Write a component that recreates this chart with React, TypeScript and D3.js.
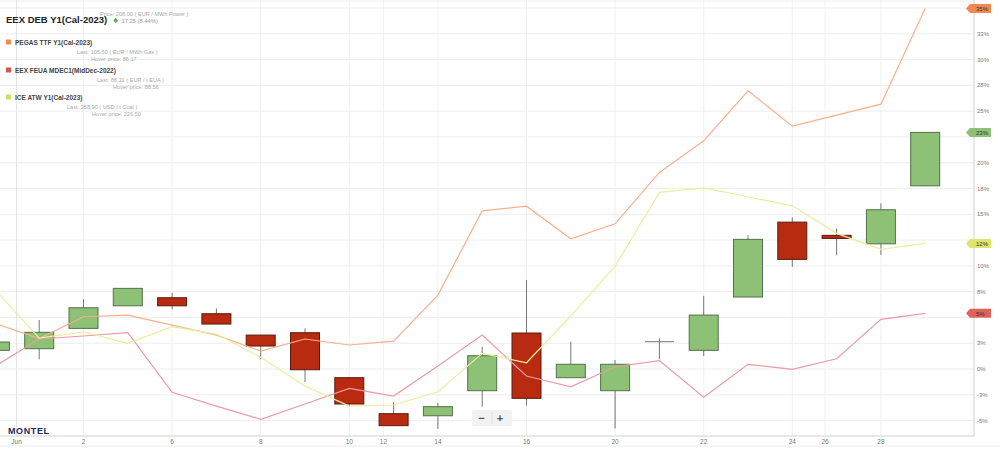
import React from "react";
import * as d3 from "d3";

// ---- data (values in % change) ----
const days = ["May 31","Jun 1","Jun 2","Jun 3","Jun 6","Jun 7","Jun 8","Jun 9","Jun 10","Jun 13","Jun 14","Jun 15","Jun 16","Jun 17","Jun 20","Jun 21","Jun 22","Jun 23","Jun 24","Jun 27","Jun 28","Jun 29"];
const opens  = [1.81, 1.97, 3.94, 6.13, 6.91, 5.36, 3.29, 3.52, -0.84, -4.33, -4.53, -2.10, 3.49, -0.84, -2.10, 2.65, 1.81, 6.98, 14.24, 12.96, 12.14, 17.76];
const highs  = [2.62, 4.75, 6.75, 7.82, 7.39, 5.88, 3.29, 3.94, -0.84, -3.23, -3.27, 2.16, 8.62, 2.65, 0.87, 2.97, 7.10, 12.98, 14.70, 13.63, 16.06, 22.94];
const lows   = [1.81, 0.94, 3.94, 6.13, 5.78, 4.36, 0.94, -1.26, -3.65, -5.49, -5.81, -3.65, -3.56, -0.84, -5.75, 0.94, 1.26, 6.98, 9.91, 11.02, 11.05, 17.76];
const closes = [2.62, 3.56, 5.94, 7.82, 6.13, 4.36, 2.23, -0.07, -3.39, -5.49, -3.65, 1.29, -2.84, 0.46, 0.46, 2.65, 5.23, 12.57, 10.63, 12.66, 15.44, 22.94];

const ttf  = [4.43, 2.96, 5.07, 5.23, 4.26, 3.29, 1.74, 2.91, 2.33, 2.71, 7.17, 15.34, 15.79, 12.63, 14.08, 19.06, 22.12, 26.97, 23.55, 24.61, 25.68, 34.95];
const feua = [0.25, 2.91, 3.20, 3.52, -2.26, -3.59, -4.87, -3.39, -1.87, -2.62, 0.29, 3.29, -0.68, -1.72, 0.22, 0.82, -2.74, 0.46, -0.03, 1.00, 4.82, 5.40];
const atw  = [7.70, 3.00, 3.61, 2.49, 4.10, 3.39, 1.13, -1.65, -3.59, -3.49, -2.20, 1.52, 0.61, 5.14, 9.98, 17.12, 17.57, 16.70, 15.82, 13.15, 11.60, 12.18];

const xTickPos = [0.49, 2, 4, 6, 8, 8.77, 10, 12, 14, 16, 18, 18.74, 20];
const xTickLabels = ["Jun", "2", "6", "8", "10", "12", "14", "16", "20", "22", "24", "26", "28"];
const yTicks = d3.range(-5, 35.01, 2.5);

const seriesNames = ["PEGAS TTF Y1(Cal-2023)", "EEX FEUA MDEC1(MidDec-2022)", "ICE ATW Y1(Cal-2023)"];
const seriesLast = ["Last: 105.50 ( EUR / MWh Gas )", "Last: 88.31 ( EUR / t EUA )", "Last: 258.90 ( USD / t Coal )"];
const seriesHover = ["Hover price: 86.17", "Hover price: 88.56", "Hover price: 226.50"];

const W = 1000, H = 449;
const plotRight = 974, plotBottom = 436;
const FONT = "'Liberation Sans', Arial, sans-serif";

const fmtPct = (v: number) => (v < 0 ? -Math.round(-v) : Math.round(v)) + "%";

export default function App() {
  const x = d3.scaleLinear().domain([0, days.length - 1]).range([-5.1, 925.2]);
  const y = d3.scaleLinear().domain([-5, 35]).range([420.6, 8]);
  const line = d3.line<number>().x((_, i) => x(i)).y((d) => y(d));
  const cw = 29;

  const lineColors = ["#f6b08f", "#e99ca3", "#ebee9f"];
  const legendColors = ["#f0894f", "#d9534f", "#d6dc5e"];
  const series = [ttf, feua, atw];

  const tags = [
    { v: ttf[ttf.length - 1], fill: "#f0894f" },
    { v: closes[closes.length - 1], fill: "#8cc176" },
    { v: atw[atw.length - 1], fill: "#dfe46a" },
    { v: feua[feua.length - 1], fill: "#e0605a" },
  ];
  const tagYs = tags.map((t) => y(t.v));
  const visibleTicks = yTicks.filter((t) => tagYs.every((ty) => Math.abs(y(t) - ty) > 8));

  const legendY = [44, 72, 99];
  const lastX = [77, 97, 67];
  const hoverX = [91, 113, 92];

  return (
    <svg width={W} height={H} style={{ position: "absolute", left: 0, top: 0, background: "#fff" }} fontFamily={FONT}>
      <defs>
        <clipPath id="plot">
          <rect x={0} y={0} width={plotRight} height={plotBottom} />
        </clipPath>
      </defs>
      <rect x={0} y={0} width={W} height={H} fill="#fff" />
      {/* horizontal grid */}
      {yTicks.map((t) => (
        <line key={"gy" + t} x1={0} x2={plotRight} y1={y(t)} y2={y(t)} stroke="#eeeeee" strokeWidth={1} />
      ))}
      <line x1={0} x2={plotRight} y1={1} y2={1} stroke="#eeeeee" />
      {/* vertical grid */}
      {xTickPos.map((p, i) => (
        <line key={"gx" + i} x1={x(p)} x2={x(p)} y1={0} y2={plotBottom} stroke="#f0f0f0" strokeWidth={1} />
      ))}
      <line x1={x(0.49)} x2={x(0.49)} y1={0} y2={plotBottom} stroke="#e4e4e4" />
      {/* axes lines */}
      <line x1={plotRight} x2={plotRight} y1={0} y2={plotBottom} stroke="#d0d0d0" />
      <line x1={0} x2={plotRight} y1={plotBottom} y2={plotBottom} stroke="#d0d0d0" />
      <line x1={0} x2={W} y1={446} y2={446} stroke="#ececec" />

      <g clipPath="url(#plot)">
        {/* candles */}
        {days.map((d, i) => {
          const o = opens[i], c = closes[i], h = highs[i], l = lows[i];
          const up = c >= o;
          const cx = x(i);
          const top = y(Math.max(o, c));
          const bot = y(Math.min(o, c));
          if (Math.abs(bot - top) < 0.5) {
            return (
              <g key={d}>
                <line x1={cx} x2={cx} y1={y(h)} y2={y(l)} stroke="#777" />
                <line x1={cx - cw / 2} x2={cx + cw / 2} y1={top} y2={top} stroke="#777" />
              </g>
            );
          }
          return (
            <g key={d}>
              <line x1={cx} x2={cx} y1={y(h)} y2={y(l)} stroke="#777" />
              <rect x={cx - cw / 2} y={top} width={cw} height={bot - top}
                fill={up ? "#8cc176" : "#b82b10"} stroke={up ? "#55704a" : "#5a1a0c"} strokeWidth={1} />
            </g>
          );
        })}
        {/* comparison lines */}
        {series.map((s, k) => (
          <path key={"s" + k} d={line(s) || ""} fill="none" stroke={lineColors[k]} strokeWidth={1.2} />
        ))}
      </g>

      {/* right axis labels */}
      {visibleTicks.map((t) => (
        <text key={"yl" + t} x={977} y={y(t) + 2} fontSize={6} fill="#777">{fmtPct(t)}</text>
      ))}
      {/* tags */}
      {tags.map((t, i) => {
        const ty = tagYs[i];
        return (
          <g key={"tag" + i}>
            <path d={`M966,${ty} L970,${ty - 4.5} L991,${ty - 4.5} L991,${ty + 4.5} L970,${ty + 4.5} Z`} fill={t.fill} />
            <text x={976} y={ty + 2.2} fontSize={6} fill="#333">{fmtPct(t.v)}</text>
          </g>
        );
      })}
      {/* bottom axis labels */}
      {xTickPos.map((p, i) => (
        <text key={"xl" + i} x={x(p)} y={444} fontSize={6.5} fill="#777" textAnchor="middle">{xTickLabels[i]}</text>
      ))}

      {/* legend */}
      <text x={6} y={23} fontSize={9.5} fontWeight="bold" fill="#222">EEX DEB Y1(Cal-2023)</text>
      <text x={100} y={15.5} fontSize={5.6} fill="#aaa">Price: 208.00 ( EUR / MWh Power )</text>
      <path d="M115.7,17.8 L118,20.5 L115.7,23.2 L113.4,20.5 Z" fill="#6aa84f" />
      <text x={121.5} y={22.5} fontSize={5.8} fill="#999">17.25 (8.44%)</text>
      {seriesNames.map((n, k) => (
        <g key={"lg" + k}>
          <rect x={6} y={legendY[k] - 4.5} width={5} height={5} fill={legendColors[k]} />
          <text x={15} y={legendY[k] + 0.5} fontSize={6.5} fontWeight="bold" fill="#444">{n}</text>
          <text x={lastX[k]} y={legendY[k] + 10} fontSize={5.6} fill="#aaa">{seriesLast[k]}</text>
          <text x={hoverX[k]} y={legendY[k] + 17} fontSize={5.6} fill="#aaa">{seriesHover[k]}</text>
        </g>
      ))}

      {/* logo */}
      <text x={8} y={434} fontSize={9} fontWeight="bold" fill="#1b2b5e" letterSpacing={0.6}>MONTEL</text>

      {/* zoom buttons */}
      <rect x={472} y={410} width={40} height={16} rx={2} fill="#f2f2f2" />
      <line x1={492} x2={492} y1={412} y2={424} stroke="#dddddd" />
      <text x={481.5} y={421.5} fontSize={11} fontWeight="bold" fill="#555" textAnchor="middle">−</text>
      <text x={500} y={421.5} fontSize={11} fontWeight="bold" fill="#555" textAnchor="middle">+</text>
    </svg>
  );
}
